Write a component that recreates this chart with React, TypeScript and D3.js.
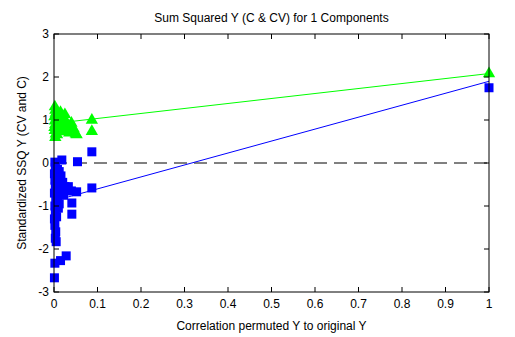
import React from "react";
import * as d3 from "d3";

const xTicks = [0, 0.1, 0.2, 0.3, 0.4, 0.5, 0.6, 0.7, 0.8, 0.9, 1];
const yTicks = [-3, -2, -1, 0, 1, 2, 3];

// C (green triangles)
const cX = [0.002, 0.003, 0.004, 0.001, 0.002, 0.003, 0.001, 0.002, 0.004, 0.003, 0.008, 0.01, 0.012, 0.007, 0.015, 0.018, 0.02, 0.022, 0.025, 0.027, 0.03, 0.035, 0.04, 0.045, 0.05, 0.052, 0.038, 0.087, 0.087, 1];
const cY = [1.33, 1.25, 1.18, 1.1, 1.0, 0.92, 0.85, 0.78, 0.7, 0.62, 1.05, 0.95, 0.8, 0.68, 1.2, 1.1, 0.9, 0.75, 1.15, 1.0, 0.85, 0.72, 0.95, 0.82, 0.7, 0.68, 0.88, 1.02, 0.76, 2.1];

// CV (blue squares)
const cvX = [0.002, 0.003, 0.001, 0.002, 0.003, 0.001, 0.004, 0.002, 0.003, 0.001, 0.002, 0.004, 0.003, 0.005, 0.002, 0.001, 0.015, 0.028, 0.018, 0.012, 0.01, 0.008, 0.015, 0.02, 0.025, 0.033, 0.04, 0.041, 0.041, 0.052, 0.054, 0.087, 0.087, 0.008, 0.007, 0.01, 0.006, 0.016, 0.022, 0.012, 1];
const cvY = [0.02, -0.1, -0.25, -0.4, -0.55, -0.7, -0.85, -1.0, -1.15, -1.3, -1.45, -1.6, -1.75, -1.83, -2.33, -2.67, -2.27, -2.16, 0.07, -0.2, -0.5, -0.8, -0.6, -0.45, -0.55, -0.55, -0.65, -0.93, -1.19, -0.67, 0.03, 0.26, -0.58, -0.15, -0.4, -1.05, -1.25, -0.3, -0.75, -0.95, 1.75];

// fitted lines (endpoints)
const cFitX = [0, 1];
const cFitY = [0.92, 2.08];
const cvFitX = [0, 1];
const cvFitY = [-0.88, 1.9];

export default function App() {
  const W = 515, H = 337;
  const left = 54, right = 489, top = 34, bottom = 292;
  const x = d3.scaleLinear().domain([0, 1]).range([left, right]);
  const y = d3.scaleLinear().domain([-3, 3]).range([bottom, top]);
  const line = d3.line<[number, number]>().x(d => x(d[0])).y(d => y(d[1]));
  const font = "Liberation Sans, Arial, sans-serif";
  const tl = 5;
  const tri = d3.symbol().type(d3.symbolTriangle).size(66)();
  return (
    <svg width={W} height={H} style={{ position: "absolute", left: 0, top: 0, background: "#fff" }}>
      <rect x={0} y={0} width={W} height={H} fill="#fff" />
      <text x={(left + right) / 2} y={22} textAnchor="middle" fontFamily={font} fontSize={12}>
        Sum Squared Y (C &amp; CV) for 1 Components
      </text>
      <line x1={x(0)} x2={x(1)} y1={y(0)} y2={y(0)} stroke="#000" strokeDasharray="13,7" />
      <path d={line(cFitX.map((v, i) => [v, cFitY[i]]) as any) || ""} stroke="#00ff00" fill="none" />
      <path d={line(cvFitX.map((v, i) => [v, cvFitY[i]]) as any) || ""} stroke="#0000ff" fill="none" />
      {cvX.map((v, i) => (
        <rect key={"cv" + i} x={x(v) - 4.5} y={y(cvY[i]) - 4.5} width={9} height={9} fill="#0000ff" />
      ))}
      {cX.map((v, i) => (
        <path key={"c" + i} d={tri || ""} transform={`translate(${x(v)},${y(cY[i]) + 1})`} fill="#00ff00" />
      ))}
      <rect x={left} y={top} width={right - left} height={bottom - top} fill="none" stroke="#000" />
      {xTicks.map(t => (
        <g key={"x" + t}>
          <line x1={x(t)} x2={x(t)} y1={bottom} y2={bottom - tl} stroke="#000" />
          <line x1={x(t)} x2={x(t)} y1={top} y2={top + tl} stroke="#000" />
          <text x={x(t)} y={bottom + 16} textAnchor="middle" fontFamily={font} fontSize={12}>{t}</text>
        </g>
      ))}
      {yTicks.map(t => (
        <g key={"y" + t}>
          <line x1={left} x2={left + tl} y1={y(t)} y2={y(t)} stroke="#000" />
          <line x1={right} x2={right - tl} y1={y(t)} y2={y(t)} stroke="#000" />
          <text x={left - 5} y={y(t) + 4} textAnchor="end" fontFamily={font} fontSize={12}>{t}</text>
        </g>
      ))}
      <text x={(left + right) / 2} y={330} textAnchor="middle" fontFamily={font} fontSize={12}>
        Correlation permuted Y to original Y
      </text>
      <text transform={`translate(26,${(top + bottom) / 2}) rotate(-90)`} textAnchor="middle" fontFamily={font} fontSize={12}>
        Standardized SSQ Y (CV and C)
      </text>
    </svg>
  );
}
